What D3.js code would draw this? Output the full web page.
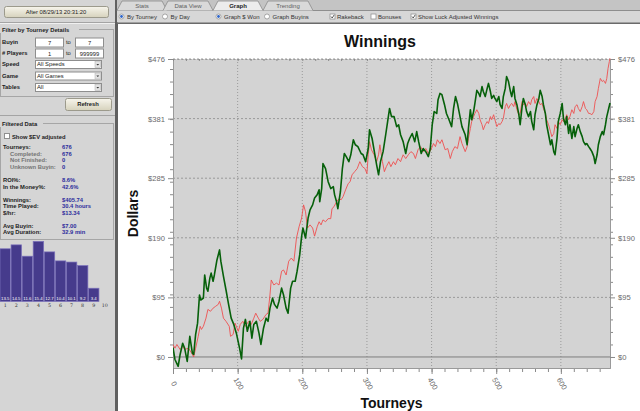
<!DOCTYPE html>
<html>
<head>
<meta charset="utf-8">
<script src="https://cdn.jsdelivr.net/npm/d3@7"></script>
<style>
  body { margin: 0; background: #d5d5d5; }
  svg { display: block; font-family: "Liberation Sans", Arial, sans-serif; }
</style>
</head>
<body>
<script>
// ---- winnings curves (tourney number -> dollars) ----
const actualTourneys = [0,3,8,11,15,18,22,26,30,32,35,38,41,43,47,49,52,54,57,59,62,64,68,72,74,78,82,86,90,94,98,103,106,109,112,115,119,122,125,129,133,136,140,144,147,150,154,157,161,164,168,171,175,178,182,185,189,192,196,199,201,205,209,212,216,219,223,226,
  227,230,232,236,240,244,248,250,253,255,259,262,265,268,272,275,279,282,286,291,294,298,302,304,308,312,315,318,321,325,329,332,335,338,342,346,349,352,356,360,363,366,370,374,377,380,384,387,391,395,398,401,404,408,410,413,416,420,423,427,431,434,437,440,444,447,
  452,455,457,460,462,465,467,470,473,475,478,480,483,486,488,491,493,496,498,501,504,506,509,511,514,516,519,522,524,527,529,532,535,537,540,542,545,547,550,553,555,558,560,563,566,568,571,573,576,578,581,584,586,589,591,594,596,599,602,604,607,609,612,614,617,620,622,625,627,630,633,635,638,640,643,645,648,651,653,656,658,661,664,666,669,671,674,676];
const actualWinnings = [15,-4,-15,4,22,14,-7,33,6,4,36,54,99,91,94,131,110,105,126,134,121,131,155,171,153,129,107,84,62,52,38,14,-3,46,60,41,57,30,52,57,38,20,46,62,57,78,94,84,78,89,110,99,78,70,110,121,121,137,163,193,206,190,222,235,243,254,259,267,
  248,269,309,301,280,269,272,259,248,237,264,301,325,320,312,323,347,339,336,325,323,312,333,363,349,325,307,291,312,328,355,376,397,384,384,368,371,355,344,325,341,349,357,344,360,344,325,333,328,320,333,371,392,389,411,421,419,403,389,379,368,397,416,405,384,368,
  355,339,365,395,379,392,405,426,421,416,432,424,416,429,437,424,413,418,413,408,416,403,397,416,429,448,440,424,416,432,413,403,387,371,400,413,403,392,384,392,376,363,387,403,413,426,416,403,389,371,355,339,347,328,323,349,376,389,405,381,371,384,357,371,349,368,352,365,371,360,352,344,339,341,336,333,328,320,309,323,339,352,360,355,371,384,397,405.74];

const luckTourneys = [0,3,6,11,15,18,24,29,32,35,39,42,44,47,51,54,58,62,66,70,72,75,78,82,87,89,93,96,101,104,108,112,117,121,125,128,132,135,139,144,147,150,152,156,160,164,168,171,175,179,183,187,191,195,199,202,205,208,212,216,219,223,226,
  229,232,236,240,244,246,249,253,257,260,263,267,271,274,277,281,285,289,293,297,300,302,304,307,311,315,318,320,324,327,330,334,337,341,344,348,352,356,360,364,368,372,375,379,383,387,391,395,399,403,406,409,413,416,421,425,429,432,436,440,444,447,
  452,455,457,460,462,465,467,470,473,475,478,480,483,486,488,491,493,496,498,501,504,506,509,511,514,516,519,522,524,527,529,532,535,537,540,542,545,547,550,553,555,558,560,563,566,568,571,573,576,578,581,584,586,589,591,594,596,599,602,604,607,609,612,614,617,620,622,625,627,630,633,635,638,640,643,645,648,651,653,656,658,661,664,666,669,671,673,675,676];
const luckWinnings = [20,14,20,12,17,12,14,6,0,14,33,49,44,49,62,76,73,78,81,84,89,78,62,57,49,33,36,54,41,52,57,49,57,52,62,70,62,57,60,68,70,99,123,115,118,115,137,139,131,153,158,153,190,208,222,243,232,206,211,206,193,208,216,
  211,219,216,221,221,237,240,248,253,251,256,267,277,280,291,296,301,312,304,301,293,323,344,331,323,312,323,339,312,296,304,312,304,312,307,317,312,323,317,323,328,325,317,331,336,328,333,325,331,341,336,347,341,347,331,333,317,328,336,333,352,341,
  328,336,349,365,376,384,389,395,389,379,371,363,371,376,373,384,379,387,379,368,373,371,376,381,400,405,397,403,405,400,408,395,387,389,408,403,405,400,408,403,411,416,405,413,408,403,405,397,389,379,371,360,352,357,371,365,376,371,379,376,381,387,379,384,395,389,400,403,397,392,400,408,397,395,389,389,387,392,408,416,429,445,440,442,437,445,461,472,477];

// ---- axes ----
const xMajorTicks = [0, 100, 200, 300, 400, 500, 600];
const yTickValues = [0, 95.2, 190.4, 285.6, 380.8, 476];
const yTickLabels = ["$0", "$95", "$190", "$285", "$381", "$476"];

// ---- finishing place histogram (%) ----
const finishPlaces = [1, 2, 3, 4, 5, 6, 7, 8, 9, 10];
const finishPct = [13.5, 14.5, 11.6, 15.4, 12.7, 10.4, 10.1, 9.2, 3.4, 0];

// ---- sidebar stats ----
const statLabels = ["Tourneys:", "Completed:", "Not Finished:", "Unknown Buyin:", "ROI%:", "In the Money%:", "Winnings:", "Time Played:", "$/hr:", "Avg Buyin:", "Avg Duration:"];
const statValues = ["676", "676", "0", "0", "8.6%", "42.6%", "$405.74", "30.4 hours", "$13.34", "$7.00", "32.9 min"];
const statIndented = [false, true, true, true, false, false, false, false, false, false, false];

const filterLabels = ["Buyin", "# Players", "Speed", "Game", "Tables"];
const filterFrom = ["7", "1"];
const filterTo = ["7", "999999"];
const filterSelects = ["All Speeds", "All Games", "All"];

const tabNames = ["Stats", "Data View", "Graph", "Trending"];

const svg = d3.select("body").append("svg")
    .attr("width", 640)
    .attr("height", 411);

const defs = svg.append("defs");
const btnGrad = defs.append("linearGradient").attr("id", "btn")
    .attr("x1", 0).attr("y1", 0).attr("x2", 0).attr("y2", 1);
btnGrad.append("stop").attr("offset", "0%").attr("stop-color", "#f7f5ec");
btnGrad.append("stop").attr("offset", "100%").attr("stop-color", "#d6d2bc");

//----------- Left panel --------------
const side = svg.append("g").style("font-size", "5.8px");
side.append("rect").attr("width", 116).attr("height", 411).attr("fill", "#d5d5d5");

function button(g, x0, y0, w, h, label, bold) {
    g.append("rect").attr("x", x0 + 0.5).attr("y", y0 + 0.5).attr("width", w).attr("height", h)
        .attr("rx", 2).attr("fill", "url(#btn)").attr("stroke", "#9c9a8c");
    g.append("text").attr("x", x0 + w / 2).attr("y", y0 + h / 2 + 2.2)
        .attr("text-anchor", "middle").attr("fill", "#222")
        .style("font-weight", bold ? "bold" : "normal")
        .text(label);
}

button(side, 4, 6, 104, 11, "After 08/29/13 20:31:20", false);
side.append("line").attr("x1", 0).attr("x2", 116).attr("y1", 22.5).attr("y2", 22.5).attr("stroke", "#a4a4a4");
side.append("line").attr("x1", 0).attr("x2", 116).attr("y1", 23.5).attr("y2", 23.5).attr("stroke", "#f0f0f0");

// group box: filter
side.append("rect").attr("x", 0.5).attr("y", 29.5).attr("width", 113).attr("height", 67)
    .attr("fill", "none").attr("stroke", "#a6a6a6");
side.append("rect").attr("x", 0).attr("y", 26).attr("width", 79).attr("height", 7).attr("fill", "#d5d5d5");
side.append("text").attr("x", 2).attr("y", 32).style("font-weight", "bold").attr("fill", "#222")
    .text("Filter by Tourney Details");

const filterY = [44, 55, 66, 77.5, 89];
filterLabels.forEach(function (d, i) {
    side.append("text").attr("x", 2).attr("y", filterY[i]).style("font-weight", "bold")
        .attr("fill", "#222").text(d);
});

function inputBox(x0, y0, w, txt) {
    side.append("rect").attr("x", x0 + 0.5).attr("y", y0 + 0.5).attr("width", w).attr("height", 9)
        .attr("fill", "#fff").attr("stroke", "#8e8e8e");
    side.append("text").attr("x", x0 + w / 2 + 0.5).attr("y", y0 + 7)
        .attr("text-anchor", "middle").attr("fill", "#222").text(txt);
}
filterFrom.forEach(function (d, i) {
    inputBox(35, filterY[i] - 6.5, 28, d);
    inputBox(75, filterY[i] - 6.5, 28, filterTo[i]);
    side.append("text").attr("x", 66).attr("y", filterY[i]).attr("fill", "#222").text("to");
});
filterSelects.forEach(function (d, i) {
    const yy = filterY[i + 2] - 6;
    side.append("rect").attr("x", 35.5).attr("y", yy + 0.5).attr("width", 66).attr("height", 8)
        .attr("fill", "#fff").attr("stroke", "#8e8e8e");
    side.append("rect").attr("x", 95).attr("y", yy + 1.5).attr("width", 5.5).attr("height", 6)
        .attr("fill", "#e2e2e2").attr("stroke", "#b0b0b0").attr("stroke-width", 0.5);
    side.append("path").attr("d", `M${96.4},${yy + 4} L${99.2},${yy + 4} L${97.8},${yy + 5.6} Z`).attr("fill", "#333");
    side.append("text").attr("x", 37).attr("y", yy + 6.4).attr("fill", "#222").text(d);
});

button(side, 65, 98, 46, 12, "Refresh", true);
side.append("line").attr("x1", 0).attr("x2", 116).attr("y1", 115.5).attr("y2", 115.5).attr("stroke", "#a4a4a4");

// group box: filtered data
side.append("rect").attr("x", 0.5).attr("y", 123.5).attr("width", 113).attr("height", 116)
    .attr("fill", "none").attr("stroke", "#a6a6a6");
side.append("rect").attr("x", 0).attr("y", 120).attr("width", 43).attr("height", 7).attr("fill", "#d5d5d5");
side.append("text").attr("x", 2).attr("y", 126).style("font-weight", "bold").attr("fill", "#222")
    .text("Filtered Data");
side.append("rect").attr("x", 4.5).attr("y", 133.5).attr("width", 5).attr("height", 5)
    .attr("fill", "#fff").attr("stroke", "#8e8e8e");
side.append("text").attr("x", 12).attr("y", 138.5).style("font-weight", "bold").attr("fill", "#222")
    .text("Show $EV adjusted");

const statY = [149, 155.5, 162, 168.5, 182, 188.5, 201.5, 208, 214.5, 227.5, 234];
statLabels.forEach(function (d, i) {
    side.append("text").attr("x", statIndented[i] ? 10 : 3).attr("y", statY[i])
        .style("font-weight", "bold").attr("fill", statIndented[i] ? "#747474" : "#1c1c1c").text(d);
    side.append("text").attr("x", 62).attr("y", statY[i])
        .style("font-weight", "bold").attr("fill", "#2c2c9c").text(statValues[i]);
});

// histogram
const hx = d3.scaleBand().domain(finishPlaces).range([0, 110]).paddingInner(0.05);
const hy = d3.scaleLinear().domain([0, 16]).range([301.5, 239]);
const hist = side.append("g");
hist.selectAll("rect")
    .data(finishPct)
    .enter()
    .append("rect")
    .attr("x", (d, i) => hx(finishPlaces[i]))
    .attr("y", d => hy(d))
    .attr("width", hx.bandwidth())
    .attr("height", d => hy(0) - hy(d))
    .attr("fill", "#463b8c")
    .attr("stroke", "#7c72bc")
    .attr("stroke-width", 0.7);
hist.selectAll("text.v")
    .data(finishPct.filter(d => d > 0))
    .enter()
    .append("text")
    .attr("class", "v")
    .attr("x", (d, i) => hx(finishPlaces[i]) + hx.bandwidth() / 2)
    .attr("y", 299.5)
    .attr("text-anchor", "middle")
    .attr("fill", "#fff")
    .style("font-size", "4.3px")
    .text(d => d);
hist.selectAll("text.n")
    .data(finishPlaces)
    .enter()
    .append("text")
    .attr("class", "n")
    .attr("x", d => hx(d) + hx.bandwidth() / 2)
    .attr("y", 307)
    .attr("text-anchor", "middle")
    .attr("fill", "#333")
    .style("font-family", "'DejaVu Serif', serif")
    .style("font-size", "4.8px")
    .text(d => d);

//----------- Top bars --------------
const topBar = svg.append("g").style("font-size", "6px");
topBar.append("rect").attr("x", 115).attr("y", 0).attr("width", 3).attr("height", 411).attr("fill", "#606060");
topBar.append("rect").attr("x", 117).attr("y", 0).attr("width", 523).attr("height", 10.5).attr("fill", "#c4c4c4");
topBar.append("rect").attr("x", 117).attr("y", 10.5).attr("width", 523).attr("height", 12).attr("fill", "#d7d7d7");
topBar.append("line").attr("x1", 117).attr("x2", 640).attr("y1", 10.5).attr("y2", 10.5).attr("stroke", "#8e8e8e");
topBar.append("rect").attr("x", 117).attr("y", 22.5).attr("width", 523).attr("height", 1.5).attr("fill", "#6a6a6a");
topBar.append("rect").attr("x", 118).attr("y", 24).attr("width", 522).attr("height", 387).attr("fill", "#ffffff");

const tabX = [117, 163, 213, 263];
const tabW = 50;
[0, 1, 3, 2].forEach(function (i) {
    const x0 = tabX[i], sel = tabNames[i] === "Graph";
    topBar.append("path")
        .attr("d", `M${x0},10.5 L${x0 + 5},1 L${x0 + tabW - 5},1 L${x0 + tabW},10.5`)
        .attr("fill", sel ? "#ececec" : "#d9d9d9")
        .attr("stroke", "#8c8c8c").attr("stroke-width", 0.8);
    topBar.append("text").attr("x", x0 + tabW / 2).attr("y", 8)
        .attr("text-anchor", "middle")
        .attr("fill", sel ? "#222" : "#606060")
        .style("font-weight", sel ? "bold" : "normal")
        .text(tabNames[i]);
});

function radio(cx, label, on) {
    topBar.append("circle").attr("cx", cx).attr("cy", 16.5).attr("r", 2.5)
        .attr("fill", "#fff").attr("stroke", "#8a8a8a").attr("stroke-width", 0.7);
    if (on) topBar.append("circle").attr("cx", cx).attr("cy", 16.5).attr("r", 1.4).attr("fill", "#2b63c8");
    topBar.append("text").attr("x", cx + 5.5).attr("y", 18.8).attr("fill", "#333").text(label);
}
function check(x0, label, on) {
    topBar.append("rect").attr("x", x0).attr("y", 14).attr("width", 5).attr("height", 5)
        .attr("fill", "#fff").attr("stroke", "#8a8a8a").attr("stroke-width", 0.7);
    if (on) topBar.append("path").attr("d", `M${x0 + 1},${16.5} L${x0 + 2.2},${18} L${x0 + 4.2},${14.9}`)
        .attr("fill", "none").attr("stroke", "#333").attr("stroke-width", 0.8);
    topBar.append("text").attr("x", x0 + 7).attr("y", 18.8).attr("fill", "#333").text(label);
}
radio(121.5, "By Tourney", true);
radio(165, "By Day", false);
radio(218.5, "Graph $ Won", true);
radio(267, "Graph Buyins", false);
check(330, "Rakeback", true);
check(371, "Bonuses", false);
check(411, "Show Luck Adjusted Winnings", true);

//----------- Chart --------------
const x = d3.scaleLinear().domain([0, 676]).range([173, 610]);
const y = d3.scaleLinear().domain([-17.6, 476]).range([368, 59]);

const chart = svg.append("g");
chart.append("rect")
    .attr("x", x(0)).attr("y", y(476))
    .attr("width", x(676) - x(0)).attr("height", y(-17.6) - y(476))
    .attr("fill", "#d3d3d3");

// grid
chart.append("g").selectAll("line")
    .data(xMajorTicks.slice(1))
    .enter()
    .append("line")
    .attr("x1", d => x(d)).attr("x2", d => x(d))
    .attr("y1", y(476)).attr("y2", y(-17.6))
    .attr("stroke", "#9a9a9a").attr("stroke-dasharray", "1,2");
chart.append("g").selectAll("line")
    .data(yTickValues.slice(1))
    .enter()
    .append("line")
    .attr("x1", x(0)).attr("x2", x(676))
    .attr("y1", d => y(d)).attr("y2", d => y(d))
    .attr("stroke", "#9a9a9a").attr("stroke-dasharray", "2,2");
chart.append("line")
    .attr("x1", x(0)).attr("x2", x(676))
    .attr("y1", y(0)).attr("y2", y(0))
    .attr("stroke", "#7e7e7e");

// axes
function styleAxis(g) {
    g.selectAll("path.domain").attr("stroke", "#9a9a9a");
    g.selectAll(".tick line").attr("stroke", "#8a8a8a");
    g.selectAll(".tick text").attr("fill", "#6a6a6a").style("font-size", "7.6px")
        .style("font-family", "'Liberation Sans', Arial, sans-serif");
}
const minorY = d3.range(0, 476, 20);
const minorX = d3.range(0, 677, 20);

chart.append("g").attr("transform", `translate(${x(0)},0)`)
    .call(d3.axisLeft(y).tickValues(minorY).tickSize(3).tickSizeOuter(0).tickFormat(""))
    .call(styleAxis);
chart.append("g").attr("transform", `translate(${x(0)},0)`)
    .call(d3.axisLeft(y).tickValues(yTickValues).tickSize(5).tickSizeOuter(0)
        .tickFormat((d, i) => yTickLabels[i]))
    .call(styleAxis);
chart.append("g").attr("transform", `translate(${x(676)},0)`)
    .call(d3.axisRight(y).tickValues(minorY).tickSize(3).tickSizeOuter(0).tickFormat(""))
    .call(styleAxis);
chart.append("g").attr("transform", `translate(${x(676)},0)`)
    .call(d3.axisRight(y).tickValues(yTickValues).tickSize(5).tickSizeOuter(0)
        .tickFormat((d, i) => yTickLabels[i]))
    .call(styleAxis);

chart.append("g").attr("transform", `translate(0,${y(-17.6)})`)
    .call(d3.axisBottom(x).tickValues(minorX).tickSize(4).tickSizeOuter(0).tickFormat(""))
    .call(styleAxis);
const xAxis = chart.append("g").attr("transform", `translate(0,${y(-17.6)})`)
    .call(d3.axisBottom(x).tickValues(xMajorTicks).tickSize(6).tickSizeOuter(0))
    .call(styleAxis);
xAxis.selectAll(".tick text")
    .attr("y", 0).attr("dy", null)
    .attr("text-anchor", "middle")
    .attr("dominant-baseline", "middle")
    .attr("transform", "translate(0,16) rotate(60)");

chart.append("g").attr("transform", `translate(0,${y(476)})`)
    .call(d3.axisBottom(x).tickValues(minorX).tickSize(2).tickSizeOuter(0).tickFormat(""))
    .call(g => g.select("path.domain").attr("stroke", "#9a9a9a").attr("stroke-dasharray", "2,2"))
    .call(g => g.selectAll(".tick line").attr("stroke", "#8a8a8a"));

// lines
chart.append("clipPath").attr("id", "plotClip")
    .append("rect")
    .attr("x", x(0)).attr("y", y(476) - 2)
    .attr("width", x(676) - x(0) + 1).attr("height", y(-17.6) - y(476) + 2);

const line = d3.line()
    .x(d => x(d[0]))
    .y(d => y(d[1]));

chart.append("path")
    .datum(d3.zip(luckTourneys, luckWinnings))
    .attr("clip-path", "url(#plotClip)")
    .attr("fill", "none")
    .attr("stroke", "#ee5050")
    .attr("stroke-width", 0.9)
    .attr("d", line);

chart.append("path")
    .datum(d3.zip(actualTourneys, actualWinnings))
    .attr("clip-path", "url(#plotClip)")
    .attr("fill", "none")
    .attr("stroke", "#06600a")
    .attr("stroke-width", 1.6)
    .attr("stroke-linejoin", "round")
    .attr("d", line);

// titles
chart.append("text")
    .attr("x", 380).attr("y", 47)
    .attr("text-anchor", "middle")
    .style("font-size", "16px").style("font-weight", "bold")
    .attr("fill", "#111")
    .text("Winnings");
chart.append("text")
    .attr("transform", `translate(138,${(y(476) + y(-17.6)) / 2}) rotate(-90)`)
    .attr("text-anchor", "middle")
    .style("font-size", "14px").style("font-weight", "bold")
    .attr("fill", "#111")
    .text("Dollars");
chart.append("text")
    .attr("x", (x(0) + x(676)) / 2).attr("y", 408)
    .attr("text-anchor", "middle")
    .style("font-size", "14px").style("font-weight", "bold")
    .attr("fill", "#111")
    .text("Tourneys");
</script>
</body>
</html>
